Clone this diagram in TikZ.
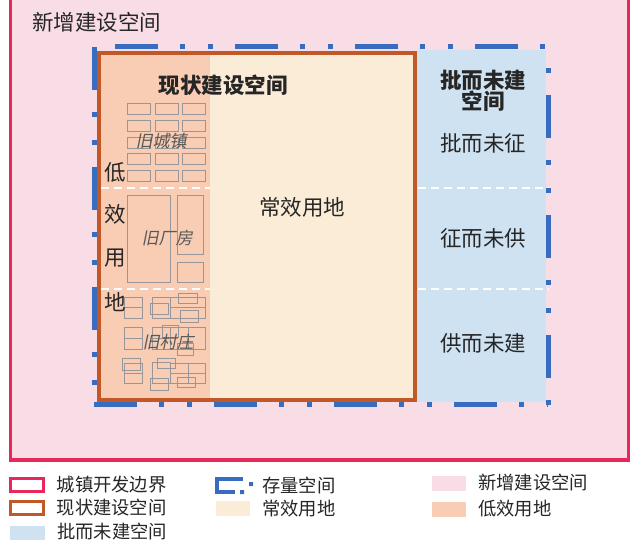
\documentclass[tikz,border=0pt]{standalone}
\usepackage{fontspec}
\setmainfont{Noto Sans CJK SC}
\newfontfamily\slantcjk[FakeSlant=0.2]{Noto Sans CJK SC}
\usetikzlibrary{positioning}
\definecolor{bndRed}{HTML}{E8285A}
\definecolor{newPink}{HTML}{F8DCE6}
\definecolor{curBrown}{HTML}{C05828}
\definecolor{lowOrange}{HTML}{F8CDB4}
\definecolor{normCream}{HTML}{FBECD7}
\definecolor{apprBlue}{HTML}{CFE2F2}
\definecolor{stockBlue}{HTML}{386CBE}
\definecolor{bldgGray}{HTML}{96969B}
\tikzset{
  bigLbl/.style={font=\fontsize{21.5}{21.5}\selectfont,text=black!85,inner sep=0pt},
  titleLbl/.style={bigLbl,font=\fontsize{21.5}{21}\selectfont\bfseries},
  oldLbl/.style={font=\fontsize{17}{17}\selectfont\slantcjk,text=black!65,inner sep=0pt},
  bldg/.style={draw=bldgGray,line width=0.9pt},
  whiteDash/.style={white,line width=1.8pt,dash pattern=on 8pt off 5pt},
  stockEdge/.style={stockBlue,line width=5pt,dash pattern=on 43pt off 22pt on 5pt off 23pt on 5pt off 22pt},
  legBox/.style={minimum width=34pt,minimum height=15pt,inner sep=0pt,outer sep=0pt},
  legLine/.style={legBox,minimum width=33pt,minimum height=13pt,line width=3pt},
  legText/.style={font=\fontsize{18.3}{18.3}\selectfont,text=black!85,inner sep=0pt,anchor=west}
}

\begin{document}
\begin{tikzpicture}[x=1pt,y=-1pt]
  \useasboundingbox[fill=white] (0,0) rectangle (630,540);
  % town development boundary
  \fill[newPink] (10.5,0) rectangle (629,460);
  \draw[bndRed,line width=3.5pt] (10.5,0) -- (10.5,460) -- (629,460) -- (629,0);
  % zones
  \fill[apprBlue] (417,50) rectangle (546,402);
  \fill[lowOrange] (101,55) rectangle (210,398);
  \fill[normCream] (210,55) rectangle (413,398);
  \draw[whiteDash] (101,188) -- (210,188) (418,188) -- (549,188);
  \draw[whiteDash] (101,289) -- (210,289) (418,289) -- (549,289);
  \draw[curBrown,line width=4.5pt] (99,53) rectangle (415,400);
  % stock space outline
  \coordinate (stockNW) at (94,47);
  \coordinate (stockNE) at (548,47);
  \coordinate (stockSW) at (94,405);
  \coordinate (stockSE) at (548,405);
  \draw[stockEdge,dash phase=99pt] (stockNW) -- (stockNE);
  \draw[stockEdge] (stockNW) -- (stockSW);
  \draw[stockEdge] (stockSW) -- (stockSE);
  \draw[stockEdge,dash phase=72pt] (stockNE) -- (stockSE);
  % old town blocks
  \foreach \bx in {127,155,182}
    \foreach \by in {103,120,137,153,170}
      \draw[bldg] (\bx,\by) rectangle +(23,11);
  % old factory
  \draw[bldg] (127,195) rectangle (170,282) (177,195) rectangle (203,254)
    (177,262) rectangle (203,282);
  % old village
  \draw[bldg] (124,297) rectangle (142,318) (124,307.5) -- (142,307.5)
    (152,297) rectangle (170,318) (150,303) rectangle (168,314)
    (170,297) rectangle (205,318) (170,307.5) -- (205,307.5)
    (178,293) rectangle (197,303) (180,310) rectangle (198,322);
  \draw[bldg] (124,327) rectangle (142,349) (124,338) -- (142,338)
    (152,327) rectangle (170,349) (152,338) -- (170,338)
    (162,325) rectangle (178,337)
    (170,327) rectangle (205,349) (188,327) -- (188,349)
    (177,343) rectangle (193,355);
  \draw[bldg] (122,358) rectangle (140,370)
    (124,363) rectangle (142,383) (124,373) -- (142,373)
    (152,362) rectangle (170,383) (157,358) rectangle (175,368)
    (170,363) rectangle (205,383) (188,363) -- (188,383) (170,373) -- (205,373)
    (150,378) rectangle (168,390) (177,377) rectangle (195,387);
  % labels
  \node[bigLbl,anchor=west] (newLbl) at (32,22) {新增建设空间};
  \node[titleLbl] (curTitle) at (223,85) {现状建设空间};
  \node[titleLbl,align=center] (apprTitle) at (483,91) {批而未建\\空间};
  \node[bigLbl] (apprA) at (483,143) {批而未征};
  \node[bigLbl] (apprB) at (483,238) {征而未供};
  \node[bigLbl] (apprC) at (483,343) {供而未建};
  \node[bigLbl] (normLbl) at (302,207) {常效用地};
  \node[bigLbl] (lowA) at (115,172) {低};
  \node[bigLbl] (lowB) at (115,214) {效};
  \node[bigLbl] (lowC) at (115,258) {用};
  \node[bigLbl] (lowD) at (115,302) {地};
  \node[oldLbl] (oldTown) at (161,141) {旧城镇};
  \node[oldLbl] (oldFactory) at (167,238) {旧厂房};
  \node[oldLbl] (oldVillage) at (168,342) {旧村庄};
  % legend
  \node[legLine,draw=bndRed] (legBnd) at (27,485) {};
  \node[legText,right=13pt of legBnd] {城镇开发边界};
  \node[legLine,draw=curBrown] (legCur) at (27,508) {};
  \node[legText,right=13pt of legCur] {现状建设空间};
  \node[legBox,fill=apprBlue,minimum width=35pt] (legAppr) at (27.5,533.5) {};
  \node[legText,right=12pt of legAppr,yshift=2pt] {批而未建空间};
  \draw[stockBlue,line width=4pt] (235,492) -- (217,492) -- (217,479) -- (243,479);
  \fill[stockBlue] (240,490) rectangle (244,494) (249,482) rectangle (253,486);
  \coordinate (legStock) at (253,485);
  \node[legText,right=9pt of legStock] {存量空间};
  \node[legBox,fill=normCream] (legNorm) at (233,508.5) {};
  \node[legText,right=12pt of legNorm] {常效用地};
  \node[legBox,fill=newPink] (legNew) at (449,483) {};
  \node[legText,right=12pt of legNew] {新增建设空间};
  \node[legBox,fill=lowOrange] (legLow) at (449,509) {};
  \node[legText,right=12pt of legLow] {低效用地};
\end{tikzpicture}
\end{document}
